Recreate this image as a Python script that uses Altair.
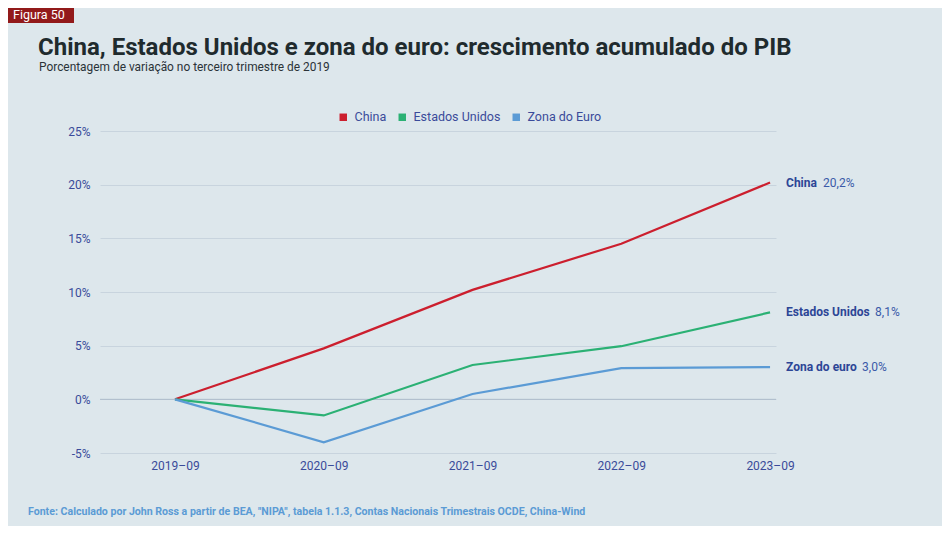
import altair as alt
import pandas as pd

periods = ["2019–09", "2020–09", "2021–09", "2022–09", "2023–09"]
series_names = ["China", "Estados Unidos", "Zona do Euro"]
china = [0.0, 4.75, 10.2, 14.5, 20.2]
usa = [0.0, -1.5, 3.2, 4.95, 8.1]
euro = [0.0, -4.0, 0.5, 2.9, 3.0]
end_labels = ["China", "Estados Unidos", "Zona do euro"]
end_values = ["20,2%", "8,1%", "3,0%"]
colors = ["#cc1f2e", "#2bb174", "#5b9bd5"]

rows = []
for name, vals in zip(series_names, [china, usa, euro]):
    for i, (p, v) in enumerate(zip(periods, vals)):
        rows.append({"serie": name, "idx": i, "periodo": p, "valor": v})
df = pd.DataFrame(rows)

end_df = pd.DataFrame({
    "serie": series_names,
    "idx": [4] * 3,
    "valor": [china[-1], usa[-1], euro[-1]],
    "rotulo": end_labels,
    "texto": end_values,
})

W, H = 676, 322
FONT = "Roboto"
LABEL_COLOR = "#3a4b9a"

xscale = alt.Scale(domain=[-0.504, 4.04], nice=False, zero=False)
yscale = alt.Scale(domain=[-5, 25], nice=False)
color_scale = alt.Scale(domain=series_names, range=colors)

label_expr = "datum.value == 0 ? '2019–09' : datum.value == 1 ? '2020–09' : datum.value == 2 ? '2021–09' : datum.value == 3 ? '2022–09' : '2023–09'"

base = alt.Chart(df)

lines = base.mark_line(strokeWidth=2.2).encode(
    x=alt.X("idx:Q", scale=xscale,
            axis=alt.Axis(values=[0, 1, 2, 3, 4], labelExpr=label_expr, title=None,
                          grid=False, domain=False, ticks=False, labelPadding=7,
                          labelFont=FONT, labelFontSize=12, labelColor=LABEL_COLOR)),
    y=alt.Y("valor:Q", scale=yscale,
            axis=alt.Axis(values=[-5, 0, 5, 10, 15, 20, 25], labelExpr="datum.value + '%'",
                          title=None, grid=True, gridColor="#c8d4de", gridWidth=1,
                          domain=False, ticks=False, labelPadding=10,
                          labelFont=FONT, labelFontSize=12, labelColor=LABEL_COLOR)),
    color=alt.Color("serie:N", scale=color_scale, sort=series_names,
                    legend=alt.Legend(title=None, orient="none", direction="horizontal",
                                      legendX=237, legendY=-20, symbolType="square",
                                      symbolSize=12, symbolStrokeWidth=4,
                                      labelFont=FONT, labelFontSize=12.5,
                                      labelColor=LABEL_COLOR, columnPadding=5,
                                      labelOffset=5)),
    detail="serie:N",
)

zero = alt.Chart(pd.DataFrame({"y": [0]})).mark_rule(color="#aebccb", strokeWidth=1).encode(
    y=alt.Y("y:Q", scale=yscale)
)

end_names = alt.Chart(end_df).mark_text(
    align="left", baseline="middle", dx=16, font=FONT, fontSize=12,
    fontWeight="bold", color="#2c4596"
).encode(
    x=alt.X("idx:Q", scale=xscale), y=alt.Y("valor:Q", scale=yscale), text="rotulo:N"
)

value_layers = []
for name, dx in zip(series_names, [53, 105, 92]):
    value_layers.append(
        alt.Chart(end_df).transform_filter(alt.datum.serie == name).mark_text(
            align="left", baseline="middle", dx=dx, font=FONT, fontSize=12,
            color="#3a5aa8"
        ).encode(x=alt.X("idx:Q", scale=xscale), y=alt.Y("valor:Q", scale=yscale),
                 text="texto:N")
    )

dummy = pd.DataFrame({"a": [0]})
badge = alt.Chart(dummy).mark_rect(color="#921a1a").encode(
    x=alt.value(-92), x2=alt.value(-26), y=alt.value(-123), y2=alt.value(-108)
)
badge_text = alt.Chart(dummy).mark_text(
    text="Figura 50", align="left", baseline="alphabetic", font=FONT, fontSize=12.5,
    color="#ffffff"
).encode(x=alt.value(-87), y=alt.value(-112))

title = alt.Chart(dummy).mark_text(
    text="China, Estados Unidos e zona do euro: crescimento acumulado do PIB",
    align="left", baseline="alphabetic", font=FONT, fontSize=24, fontWeight="bold",
    color="#1f2b2e"
).encode(x=alt.value(-62), y=alt.value(-76))

subtitle = alt.Chart(dummy).mark_text(
    text="Porcentagem de variação no terceiro trimestre de 2019",
    align="left", baseline="alphabetic", font=FONT, fontSize=11.9, color="#2b3338"
).encode(x=alt.value(-61), y=alt.value(-60))

source = alt.Chart(dummy).mark_text(
    text='Fonte: Calculado por John Ross a partir de BEA, "NIPA", tabela 1.1.3, Contas Nacionais Trimestrais OCDE, China-Wind',
    align="left", baseline="alphabetic", font=FONT, fontSize=10.6, fontWeight="bold",
    color="#5b9bd5"
).encode(x=alt.value(-72), y=alt.value(384))

chart = alt.layer(
    zero, lines, end_names, *value_layers, badge, badge_text, title, subtitle, source
).properties(
    width=W, height=H,
    autosize=alt.AutoSizeParams(type="none"),
    padding={"left": 92, "top": 123, "right": 166, "bottom": 73},
    background="#dde7ec",
).configure_view(stroke=None)

chart.save("out.html", embed_options={"renderer": "svg", "actions": False})
